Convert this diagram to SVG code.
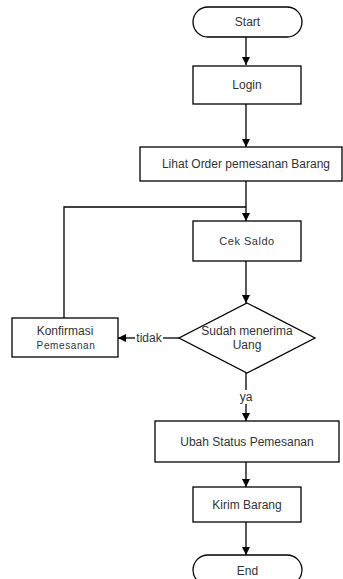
<svg xmlns="http://www.w3.org/2000/svg" width="343" height="579" viewBox="0 0 343 579">
<style>
.s{fill:#fff;stroke:#000;stroke-width:1.3}
.t{font-family:"Liberation Sans",Arial,sans-serif;font-size:12px;fill:#333;text-anchor:middle;dominant-baseline:central}
.c{fill:none;stroke:#000;stroke-width:1.3}
</style>
<defs>
<marker id="a" viewBox="0 0 10 10" refX="10" refY="5" markerWidth="8" markerHeight="8" markerUnits="userSpaceOnUse" orient="auto">
<path d="M0,0 L10,5 L0,10 z" fill="#000"/>
</marker>
</defs>
<rect width="343" height="579" fill="#fff"/>
<g id="connectors">
<path class="c" d="M246,37 V65" marker-end="url(#a)"/>
<path class="c" d="M246,104 V147" marker-end="url(#a)"/>
<path class="c" d="M246,181 V221" marker-end="url(#a)"/>
<path class="c" d="M64,318 V207 H246"/>
<path class="c" d="M246,261 V303" marker-end="url(#a)"/>
<path class="c" d="M179,338 H163"/>
<path class="c" d="M135,338 H118" marker-end="url(#a)"/>
<text class="t" x="149" y="338">tidak</text>
<path class="c" d="M246,373 V390"/>
<path class="c" d="M246,404 V421" marker-end="url(#a)"/>
<text class="t" x="246" y="397">ya</text>
<path class="c" d="M246,462 V487" marker-end="url(#a)"/>
<path class="c" d="M246,522 V555" marker-end="url(#a)"/>
</g>
<g id="start">
<rect class="s" x="193" y="7" width="109" height="30" rx="15"/>
<text class="t" x="247.5" y="22">Start</text>
</g>
<g id="login">
<rect class="s" x="193" y="66" width="108" height="38"/>
<text class="t" x="247" y="85">Login</text>
</g>
<g id="lihat">
<rect class="s" x="140" y="147" width="202" height="34"/>
<text class="t" x="246" y="164">Lihat Order pemesanan Barang</text>
</g>
<g id="cek">
<rect class="s" x="193" y="221" width="108" height="40"/>
<text class="t" x="247" y="241" style="font-size:11px;letter-spacing:0.5px">Cek Saldo</text>
</g>
<g id="decision">
<polygon class="s" points="247,303 315,338 247,373 179,338"/>
<text class="t" x="247" y="331">Sudah menerima</text>
<text class="t" x="247" y="345">Uang</text>
</g>
<g id="konfirmasi">
<rect class="s" x="12" y="318" width="106" height="39"/>
<text class="t" x="65" y="331">Konfirmasi</text>
<text class="t" x="66" y="345" style="font-size:10px;letter-spacing:0.6px">Pemesanan</text>
</g>
<g id="ubah">
<rect class="s" x="155" y="421" width="184" height="41"/>
<text class="t" x="247" y="442">Ubah Status Pemesanan</text>
</g>
<g id="kirim">
<rect class="s" x="193" y="487" width="108" height="35"/>
<text class="t" x="247" y="505">Kirim Barang</text>
</g>
<g id="end">
<rect class="s" x="193" y="555" width="109" height="30" rx="15"/>
<text class="t" x="247.5" y="571">End</text>
</g>
</svg>
